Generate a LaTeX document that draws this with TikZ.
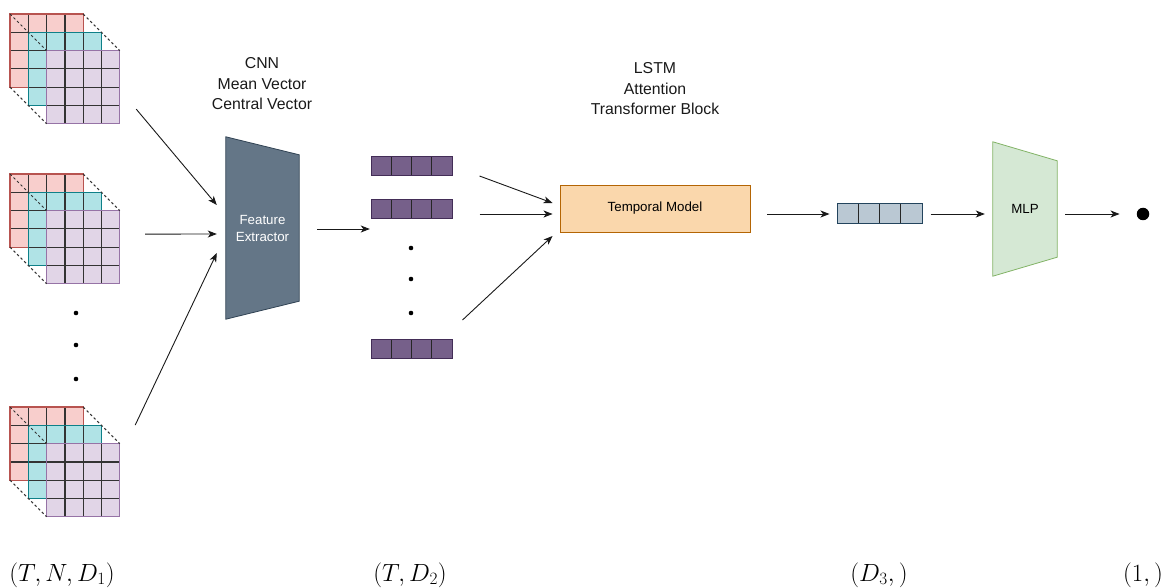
\documentclass[tikz,border=0pt]{standalone}
\usepackage{fontspec}
\setmainfont{Liberation Sans}
\usetikzlibrary{arrows.meta,calc,backgrounds}

\definecolor{redf}{HTML}{F8CECC}\definecolor{redb}{HTML}{B85450}
\definecolor{tealf}{HTML}{B0E3E6}\definecolor{tealb}{HTML}{0E8088}
\definecolor{purf}{HTML}{E1D5E7}\definecolor{purb}{HTML}{9673A6}
\definecolor{seqf}{HTML}{76608A}\definecolor{seqb}{HTML}{432D57}
\definecolor{fef}{HTML}{647687}\definecolor{feb}{HTML}{314354}
\definecolor{tmf}{HTML}{FAD7AC}\definecolor{tmb}{HTML}{B46504}
\definecolor{vf}{HTML}{BAC8D3}\definecolor{vb}{HTML}{23445D}
\definecolor{mlpf}{HTML}{D5E8D4}\definecolor{mlpb}{HTML}{82B366}

\tikzset{
  arr/.style={-{Stealth[length=9pt,width=7pt,inset=2.5pt]}, line width=0.9pt, black!90},
  gridline/.style={line width=1.2pt, black!80},
  stackdash/.style={line width=1pt, black!80, dash pattern=on 2.5pt off 2.5pt},
  heading/.style={font=\fontsize{15.8}{20.5}\selectfont, align=center, text=black!90},
  smalltext/.style={font=\fontsize{13.3}{17}\selectfont, align=center},
  shapebox/.style={inner sep=0pt},
  vecbar/.style={draw, line width=1pt, inner sep=0pt, minimum width=#1,
    path picture={\foreach \f in {0.25,0.5,0.75}{
      \draw[line width=1pt, black!85]
        ($(path picture bounding box.north west)!\f!(path picture bounding box.north east)$) --
        ($(path picture bounding box.south west)!\f!(path picture bounding box.south east)$);}}},
  dot/.style={circle, fill=black, inner sep=0pt, minimum size=#1},
  shapelabel/.style={font=\fontsize{23}{27}\selectfont},
  % three stacked 4x4 grids with dashed depth edges
  tensor/.pic={
    \def\s{18.3}
    \foreach \d/\fc/\bc in {0/redf/redb, 18.3/tealf/tealb, 36.6/purf/purb}{
      \begin{scope}[shift={(\d,\d)}]
        \fill[fill=\fc] (0,0) rectangle (73.2,73.2);
        \foreach \i in {1,2,3}{
          \draw[gridline] (\i*\s,0) -- (\i*\s,73.2);
          \draw[gridline] (0,\i*\s) -- (73.2,\i*\s);
        }
        \draw[line width=1.1pt, draw=\bc] (0,0) rectangle (73.2,73.2);
      \end{scope}
    }
    \draw[stackdash] (0,0) -- (36.6,36.6);
    \draw[stackdash] (73.2,0) -- (109.8,36.6);
    \draw[stackdash] (0,73.2) -- (36.6,109.8);
    \node[shapebox, minimum width=109.8pt, minimum height=109.8pt, anchor=north west] (-box) at (0,0) {};
  }
}

\begin{document}
\begin{tikzpicture}[x=1pt,y=-1pt]
\useasboundingbox (0,0) rectangle (1167,588);

% input tensors
\pic (s1) at (10,14) {tensor};
\pic (s2) at (10,174) {tensor};
\pic (s3) at (10,407) {tensor};
\node[dot=4.6pt] (d1) at (76,313) {};
\node[dot=4.6pt] (d2) at (76,345) {};
\node[dot=4.6pt] (d3) at (76,379) {};

% feature extractor
\node[heading] (cnn) at (262,84) {CNN\\Mean Vector\\Central Vector};
\node[shapebox, minimum width=73pt, minimum height=182pt, smalltext, text=white] (fe) at (262.5,228) {Feature\\Extractor};
\begin{scope}[on background layer]
  \filldraw[fill=fef, draw=feb, line width=0.8pt]
    (fe.north west) -- ($(fe.north east)+(0,18)$) -- ($(fe.south east)+(0,-18)$) -- (fe.south west) -- cycle;
\end{scope}

\draw[arr] ($(s1-box.east)+(16,40)$) -- ($(fe.west)+(-9,-23)$);
\draw[arr] ($(s2-box.east)+(25,5)$) -- ($(fe.west)+(-9,6)$);
\draw[arr] ($(s3-box.east)+(15,-37)$) -- ($(fe.west)+(-9,25)$);

% sequence of feature vectors
\node[vecbar=81pt, minimum height=19pt, fill=seqf, draw=seqb] (v1) at (411.5,166) {};
\node[vecbar=81pt, minimum height=19pt, fill=seqf, draw=seqb] (v2) at (411.5,209) {};
\node[vecbar=81pt, minimum height=19pt, fill=seqf, draw=seqb] (v3) at (411.5,349) {};
\node[dot=4.6pt] (e1) at (411,248) {};
\node[dot=4.6pt] (e2) at (411,279) {};
\node[dot=4.6pt] (e3) at (411,313) {};
\node[shapebox, minimum width=81pt, minimum height=202pt] (seq) at (411.5,258) {};

\draw[arr] ($(fe.east)+(18,1)$) -- ($(seq.west)+(-1,-29)$);

% temporal model
\node[heading] (tmh) at (655,89) {LSTM\\Attention\\Transformer Block};
\node[draw=tmb, fill=tmf, line width=0.9pt, minimum width=190pt, minimum height=47pt, smalltext] (tm) at (655,208.5) {Temporal Model};

\draw[arr] ($(v1.east)+(27,10)$) -- ($(tm.west)+(-7,-5.5)$);
\draw[arr] ($(v2.east)+(27,5)$) -- ($(tm.west)+(-7,5.5)$);
\draw[arr] ($(v3.east)+(10,-29)$) -- ($(tm.west)+(-7,27.5)$);

% pooled vector
\node[vecbar=85pt, minimum height=20pt, fill=vf, draw=vb] (pv) at (879.5,214) {};
\draw[arr] ($(tm.east)+(17,5.5)$) -- ($(pv.west)+(-7,0)$);

% MLP head
\node[shapebox, minimum width=64pt, minimum height=134pt, smalltext] (mlp) at (1025,209) {MLP};
\begin{scope}[on background layer]
  \filldraw[fill=mlpf, draw=mlpb, line width=0.8pt]
    (mlp.north west) -- ($(mlp.north east)+(0,19)$) -- ($(mlp.south east)+(0,-19)$) -- (mlp.south west) -- cycle;
\end{scope}
\draw[arr] ($(pv.east)+(8,0)$) -- ($(mlp.west)+(-8,5)$);

% scalar output
\node[dot=12.5pt] (out) at (1143,214) {};
\draw[arr] ($(mlp.east)+(8,5)$) -- ($(out.west)+(-17,0)$);

% shapes
\node[shapelabel] (l1) at (62,575) {$(T,N,D_1)$};
\node[shapelabel] (l2) at (410,575) {$(T,D_2)$};
\node[shapelabel] (l3) at (879,575) {$(D_3,)$};
\node[shapelabel] (l4) at (1143,575) {$(1,)$};
\end{tikzpicture}
\end{document}
